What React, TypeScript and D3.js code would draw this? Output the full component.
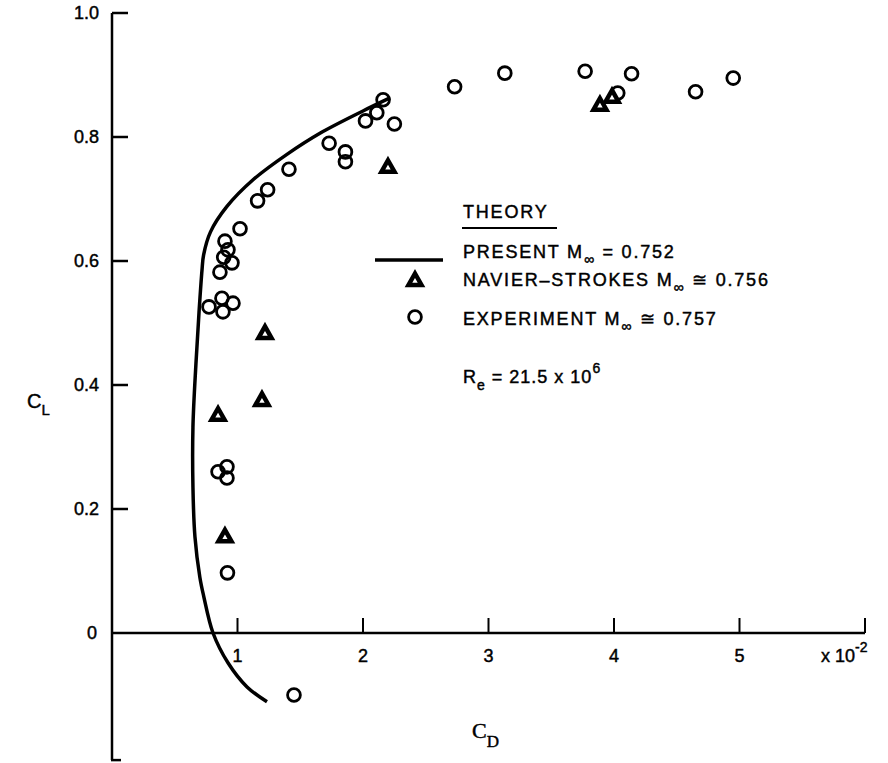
import React from "react";
import * as d3 from "d3";

// C_D values are in units of 10^-2
const theoryCurve: [number, number][] = [
  [1.235, -0.111], [1.076, -0.087], [0.924, -0.048], [0.805, 0.0],
  [0.73, 0.06], [0.70, 0.09], [0.661, 0.155], [0.645, 0.235],
  [0.645, 0.332], [0.669, 0.435], [0.693, 0.516], [0.717, 0.585],
  [0.73, 0.61], [0.785, 0.647], [0.916, 0.688], [1.124, 0.731],
  [1.394, 0.772], [1.657, 0.806], [2.0, 0.842], [2.215, 0.863],
];

const navierStokes: [number, number][] = [
  [0.845, 0.352], [0.9, 0.156], [1.195, 0.376], [1.219, 0.484],
  [2.199, 0.752], [3.888, 0.852], [3.984, 0.865],
];

const experiment: [number, number][] = [
  [1.45, -0.1], [0.92, 0.097],
  [0.845, 0.26], [0.916, 0.268], [0.916, 0.25],
  [0.773, 0.526], [0.876, 0.54], [0.964, 0.532], [0.884, 0.518],
  [0.86, 0.582], [0.956, 0.597], [0.89, 0.606], [0.924, 0.618], [0.9, 0.632],
  [1.02, 0.652], [1.16, 0.697], [1.24, 0.715], [1.41, 0.748],
  [1.73, 0.79], [1.86, 0.776], [1.86, 0.76],
  [2.02, 0.826], [2.11, 0.839], [2.16, 0.86], [2.25, 0.821],
  [2.73, 0.881], [3.13, 0.903], [3.77, 0.906], [4.03, 0.871],
  [4.14, 0.902], [4.65, 0.873], [4.95, 0.895],
];

const xTicks = [1, 2, 3, 4, 5];
const yTicks = [0.2, 0.4, 0.6, 0.8, 1.0];

const sans = "'Liberation Sans', Arial, sans-serif";
const serif = "'Liberation Serif', 'DejaVu Serif', serif";

// slightly heavier lettering, like the original plot
const ink = { fill: "#000", stroke: "#000", strokeWidth: 0.45 };
const legendText = { ...ink, fontSize: 18, letterSpacing: 1.8 };

const App = () => {
  const width = 888;
  const height = 763;

  const x = d3.scaleLinear().domain([0, 6]).range([112, 865]);
  const y = d3.scaleLinear().domain([0, 1]).range([633, 13]);
  const yBottom = -0.205;

  const line = d3
    .line<[number, number]>()
    .x((d) => x(d[0]))
    .y((d) => y(d[1]))
    .curve(d3.curveCatmullRom.alpha(0.5));

  const tri = (cx: number, cy: number) =>
    `M${cx},${cy - 6.5} L${cx + 6.5},${cy + 5} L${cx - 6.5},${cy + 5} Z`;

  return (
    <svg
      width={width}
      height={height}
      style={{ position: "absolute", left: 0, top: 0, background: "#fff" }}
      fontFamily={sans}
    >
      {/* y axis */}
      <line x1={x(0)} x2={x(0)} y1={y(1)} y2={y(yBottom)} stroke="#000" strokeWidth={2.5} />
      <line x1={x(0) - 1} x2={x(0) + 9} y1={y(yBottom)} y2={y(yBottom)} stroke="#000" strokeWidth={2.5} />
      {yTicks.map((t) => (
        <g key={t}>
          <line x1={x(0)} x2={x(0) + 16} y1={y(t)} y2={y(t)} stroke="#000" strokeWidth={2.5} />
          <text x={x(0) - 13} y={y(t) + 6} fontSize={18} textAnchor="end" {...ink}>
            {t.toFixed(1)}
          </text>
        </g>
      ))}
      <text x={x(0) - 15} y={y(0) + 6} fontSize={18} textAnchor="end" {...ink}>0</text>

      {/* x axis */}
      <line x1={x(0)} x2={x(6)} y1={y(0)} y2={y(0)} stroke="#000" strokeWidth={2.5} />
      {[...xTicks, 6].map((t) => (
        <line key={t} x1={x(t)} x2={x(t)} y1={y(0)} y2={y(0) - 15} stroke="#000" strokeWidth={2} />
      ))}
      {xTicks.map((t) => (
        <text key={t} x={x(t)} y={y(0) + 29} fontSize={18} textAnchor="middle" {...ink}>
          {t}
        </text>
      ))}
      <text x={821} y={y(0) + 29} fontSize={18} {...ink}>
        x 10<tspan fontSize={14} dy={-10}>-2</tspan>
      </text>

      {/* axis titles */}
      <text x={27} y={408} fontSize={20} {...ink}>
        C<tspan fontSize={15} dy={7}>L</tspan>
      </text>
      <text x={472} y={738} fontSize={22} fontFamily={serif} {...ink}>
        C<tspan fontSize={17} dy={9}>D</tspan>
      </text>

      {/* theory curve */}
      <path d={line(theoryCurve) ?? ""} fill="none" stroke="#000" strokeWidth={3.5} />

      {/* experiment */}
      {experiment.map((d, i) => (
        <circle key={i} cx={x(d[0])} cy={y(d[1])} r={6.4} fill="none" stroke="#000" strokeWidth={2.8} />
      ))}

      {/* navier-stokes */}
      {navierStokes.map((d, i) => (
        <path key={i} d={tri(x(d[0]), y(d[1]))} fill="#fff" stroke="#000" strokeWidth={4.5} />
      ))}

      {/* legend */}
      <text x={463} y={218} {...legendText}>THEORY</text>
      <line x1={462} x2={557} y1={228} y2={228} stroke="#000" strokeWidth={2} />

      <line x1={375} x2={443} y1={260} y2={260} stroke="#000" strokeWidth={3.5} />
      <text x={463} y={258} {...legendText}>
        PRESENT M<tspan fontSize={14} dy={6}>∞</tspan>
        <tspan dy={-6}> = 0.752</tspan>
      </text>

      <path d={tri(415, 280)} fill="#fff" stroke="#000" strokeWidth={4.5} />
      <text x={463} y={286} {...legendText}>
        NAVIER–STROKES M<tspan fontSize={14} dy={6}>∞</tspan>
        <tspan dy={-6}> ≅ 0.756</tspan>
      </text>

      <circle cx={415} cy={317} r={6.4} fill="none" stroke="#000" strokeWidth={2.8} />
      <text x={463} y={325} {...legendText}>
        EXPERIMENT M<tspan fontSize={14} dy={6}>∞</tspan>
        <tspan dy={-6}> ≅ 0.757</tspan>
      </text>

      <text x={463} y={383} {...legendText} letterSpacing={1}>
        R<tspan fontSize={14} dy={7}>e</tspan>
        <tspan dy={-7}> = 21.5 x 10</tspan>
        <tspan fontSize={14} dy={-10}>6</tspan>
      </text>
    </svg>
  );
};

export default App;
